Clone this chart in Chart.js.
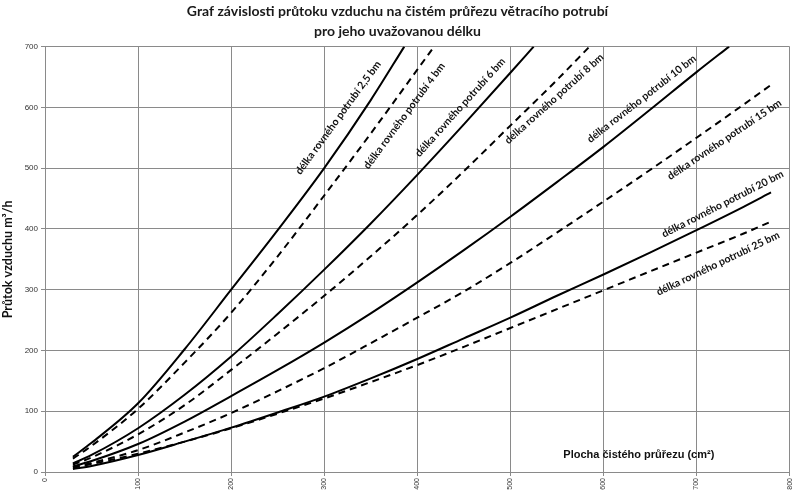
<!DOCTYPE html>
<html lang="cs">
  <head>
    <meta charset="UTF-8" />
    <title>Graf závislosti průtoku vzduchu</title>
    <script src="https://cdn.jsdelivr.net/npm/chart.js"></script>
    <style>
      html, body { margin: 0; padding: 0; background: #ffffff; }
      #wrap { width: 800px; height: 493px; position: relative; }
    </style>
  </head>
  <body>
    <div id="wrap"><canvas id="airChart" width="800" height="493"></canvas></div>

    <script>
      // --- data ---
      const titleLines = [
        "Graf závislosti průtoku vzduchu na čistém průřezu větracího potrubí",
        "pro jeho uvažovanou délku",
      ];
      const yTitle = "Průtok vzduchu m³/h";
      const xTitle = "Plocha čistého průřezu (cm²)";

      const area25 = [30, 50, 100, 150, 200, 250, 300, 350, 386];
      const flow25 = [25, 48, 113, 202, 300, 398, 500, 612, 700];

      const area4 = [30, 50, 100, 150, 200, 250, 300, 350, 400, 418];
      const flow4 = [22, 43, 104, 180, 262, 355, 455, 557, 662, 700];

      const area6 = [30, 50, 100, 150, 200, 250, 300, 350, 400, 450, 500, 525];
      const flow6 = [14, 28, 72, 127, 190, 260, 333, 409, 489, 572, 657, 700];

      const area8 = [30, 50, 100, 150, 200, 250, 300, 350, 400, 450, 500, 550, 585];
      const flow8 = [12, 24, 62, 110, 168, 228, 290, 355, 423, 495, 570, 645, 700];

      const area10 = [30, 50, 100, 150, 200, 250, 300, 350, 400, 450, 500, 550, 600, 650, 700, 735];
      const flow10 = [9, 18, 46, 83, 125, 168, 213, 261, 312, 365, 420, 477, 535, 596, 658, 700];

      const areaLong = [30, 50, 100, 150, 200, 250, 300, 350, 400, 450, 500, 550, 600, 650, 700, 750, 780];
      const flow15 = [8, 15, 36, 65, 97, 133, 171, 212, 254, 297, 344, 394, 445, 497, 550, 604, 637];
      const flow20 = [5, 10, 28, 50, 73, 98, 124, 154, 186, 220, 254, 290, 325, 361, 398, 436, 460];
      const flow25m = [7, 13, 30, 50, 72, 96, 121, 148, 176, 206, 237, 268, 299, 330, 361, 392, 412];

      const seriesNames = [
        "délka rovného potrubí 2,5 bm",
        "délka rovného potrubí 4 bm",
        "délka rovného potrubí 6 bm",
        "délka rovného potrubí 8 bm",
        "délka rovného potrubí 10 bm",
        "délka rovného potrubí 15 bm",
        "délka rovného potrubí 20 bm",
        "délka rovného potrubí 25 bm",
      ];

      // where each curve name sits (data coords) and its slant in degrees
      const curveLabels = [
        { x: 315, y: 583, angle: 54 },
        { x: 386, y: 586, angle: 53.5 },
        { x: 446, y: 600, angle: 48 },
        { x: 547, y: 614, angle: 42 },
        { x: 641, y: 614, angle: 38 },
        { x: 730, y: 547, angle: 34 },
        { x: 728, y: 441, angle: 27 },
        { x: 723, y: 343, angle: 25.5 },
      ];

      const pairs = (xs, ys) => xs.map((x, i) => ({ x: x, y: ys[i] }));

      function curve(label, xs, ys, dashed) {
        return {
          label: label,
          data: pairs(xs, ys),
          borderColor: "#000000",
          borderWidth: 2,
          borderDash: dashed ? [7, 5] : [],
          pointRadius: 0,
          fill: false,
          cubicInterpolationMode: "monotone",
        };
      }

      // names along the curves + axis caption inside the plot
      const curveNamePlugin = {
        id: "curveNames",
        afterDatasetsDraw(chart) {
          const ctx = chart.ctx;
          const xs = chart.scales.x;
          const ys = chart.scales.y;
          ctx.save();
          ctx.fillStyle = "#111111";
          ctx.textAlign = "center";
          ctx.textBaseline = "middle";
          ctx.font = "bold 10.5px Lato";
          curveLabels.forEach((l, i) => {
            ctx.save();
            ctx.translate(xs.getPixelForValue(l.x), ys.getPixelForValue(l.y));
            ctx.rotate((-l.angle * Math.PI) / 180);
            ctx.fillText(seriesNames[i], 0, 0);
            ctx.restore();
          });
          ctx.font = "bold 11px 'Liberation Sans Narrow', 'Liberation Sans', Arial";
          ctx.fillText(xTitle, xs.getPixelForValue(638), ys.getPixelForValue(28));
          ctx.restore();
        },
      };

      const ctx = document.getElementById("airChart").getContext("2d");
      new Chart(ctx, {
        type: "line",
        data: {
          datasets: [
            curve(seriesNames[0], area25, flow25, false),
            curve(seriesNames[1], area4, flow4, true),
            curve(seriesNames[2], area6, flow6, false),
            curve(seriesNames[3], area8, flow8, true),
            curve(seriesNames[4], area10, flow10, false),
            curve(seriesNames[5], areaLong, flow15, true),
            curve(seriesNames[6], areaLong, flow20, false),
            curve(seriesNames[7], areaLong, flow25m, true),
          ],
        },
        options: {
          responsive: false,
          animation: false,
          layout: { padding: { left: 0, right: 5, top: 0, bottom: 0 } },
          plugins: {
            legend: { display: false },
            tooltip: { enabled: false },
            title: {
              display: true,
              text: titleLines,
              color: "#1a1a1a",
              font: { family: "Lato", size: 14, weight: "bold", lineHeight: 1.45 },
              padding: { top: 1, bottom: 5 },
            },
          },
          scales: {
            x: {
              type: "linear",
              min: 0,
              max: 800,
              ticks: {
                stepSize: 100,
                maxRotation: 90,
                minRotation: 90,
                color: "#333333",
                font: { family: "Liberation Sans", size: 7 },
                padding: 2,
              },
              grid: { color: "#8a8a8a", lineWidth: 1, tickLength: 4 },
              border: { color: "#8a8a8a" },
              afterFit(scale) {
                scale.height = 21;
              },
            },
            y: {
              min: 0,
              max: 700,
              ticks: {
                stepSize: 100,
                color: "#333333",
                font: { family: "Liberation Sans", size: 8 },
                padding: 3,
              },
              grid: { color: "#8a8a8a", lineWidth: 1, tickLength: 4 },
              border: { color: "#8a8a8a" },
              title: {
                display: true,
                text: yTitle,
                color: "#111111",
                font: { family: "Lato", size: 12.5, weight: "bold" },
                padding: { top: 0, bottom: 2 },
              },
              afterFit(scale) {
                scale.width = 45;
              },
            },
          },
        },
        plugins: [curveNamePlugin],
      });
    </script>
  </body>
</html>
